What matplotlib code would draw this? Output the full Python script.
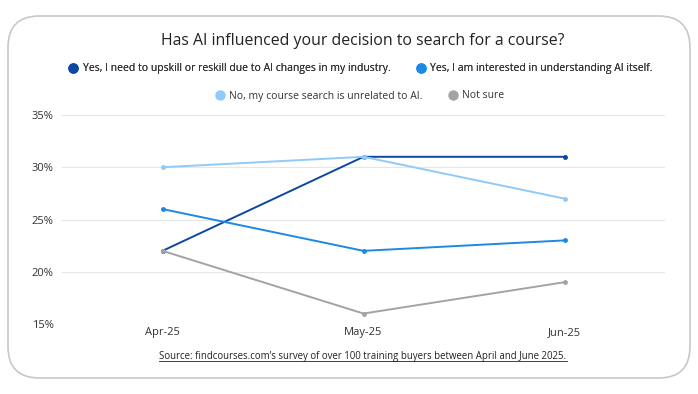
import matplotlib
matplotlib.use("Agg")
import matplotlib.pyplot as plt
from matplotlib.patches import FancyBboxPatch
from matplotlib.lines import Line2D
from matplotlib.ticker import FuncFormatter

plt.rcParams['font.family'] = ['Open Sans', 'DejaVu Sans']

months = ["Apr-25", "May-25", "Jun-25"]
upskill = [22, 31, 31]
interested = [26, 22, 23]
unrelated = [30, 31, 27]
not_sure = [22, 16, 19]

labels = [
    "Yes, I need to upskill or reskill due to AI changes in my industry.",
    "Yes, I am interested in understanding AI itself.",
    "No, my course search is unrelated to AI.",
    "Not sure",
]
colors = ["#0D47A1", "#1E88E5", "#90CAF9", "#A3A3A3"]
series = [upskill, interested, unrelated, not_sure]

fig = plt.figure(figsize=(6.98, 3.94), dpi=100)

# rounded card behind everything
card = FancyBboxPatch((8 / 698, 16 / 394), 682 / 698, 362 / 394,
                      boxstyle="round,pad=0,rounding_size=0.045",
                      transform=fig.transFigure, facecolor="white",
                      edgecolor="#c8c8c8", linewidth=1.2, zorder=-5,
                      mutation_aspect=698 / 394)
fig.patches.append(card)

ax = fig.add_axes([62 / 698, 1 - 324 / 394, 603 / 698, 209 / 394])
ax.set_zorder(1)
ax.patch.set_alpha(0)
x = range(len(months))
handles = []
for vals, c, lab in zip(series, colors, labels):
    ax.plot(x, vals, color=c, lw=1.4, marker="o", ms=2.5, zorder=3)
    handles.append(Line2D([], [], marker="o", ls="", color=c, ms=6.5, label=lab))

ax.set_xlim(-0.5, 2.5)
ax.set_ylim(15, 35)
ax.set_yticks([15, 20, 25, 30, 35])
ax.yaxis.set_major_formatter(FuncFormatter(lambda v, p: f"{v:.0f}%"))
ax.set_xticks(list(x))
ax.set_xticklabels(months)
ax.grid(axis="y", color="#e6e6e6", lw=0.8)
for s in ax.spines.values():
    s.set_visible(False)
ax.tick_params(length=0, labelsize=8, colors="#333333")
ax.tick_params(axis="x", pad=2)
ax.tick_params(axis="y", pad=6)

fig.text(363 / 698, 1 - 41 / 394, "Has AI influenced your decision to search for a course?",
         ha="center", va="center", fontsize=11.4, color="#222222")

leg_kw = dict(loc="center", frameon=False, fontsize=7.5, handletextpad=0.5,
              columnspacing=2.5, handlelength=0.8, ncol=2, labelcolor="#333333")
leg1 = fig.legend(handles=handles[:2], bbox_to_anchor=(361 / 698, 1 - 69 / 394), **leg_kw)
fig.legend(handles=handles[2:], bbox_to_anchor=(360 / 698, 1 - 96 / 394), **leg_kw)
fig.add_artist(leg1)

src = fig.text(363 / 698, 1 - 356 / 394,
               "Source: findcourses.com\u2019s survey of over 100 training buyers between April and June 2025.",
               ha="center", va="center", fontsize=6.9, color="#222222")

# underline the source line
fig.canvas.draw()
bb = src.get_window_extent().transformed(fig.transFigure.inverted())
fig.add_artist(Line2D([bb.x0, bb.x1], [bb.y0 + 0.001, bb.y0 + 0.001],
                      transform=fig.transFigure, color="#222222", lw=0.6))

fig.savefig("out.png", dpi=100)
